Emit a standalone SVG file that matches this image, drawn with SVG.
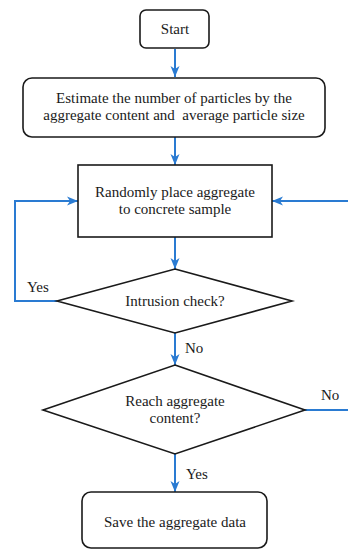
<svg xmlns="http://www.w3.org/2000/svg" width="348" height="550" viewBox="0 0 348 550">
<style>
.box{fill:#fff;stroke:#1a1a1a;stroke-width:1.6}
.t{font-family:"Liberation Serif","Times New Roman",serif;font-size:15px;fill:#1a1a1a;text-anchor:middle}
.lbl{font-family:"Liberation Serif","Times New Roman",serif;font-size:15px;fill:#1a1a1a}
.c{fill:none;stroke:#2a7bd2;stroke-width:2}
</style>
<defs>
<marker id="arr" markerUnits="userSpaceOnUse" markerWidth="12" markerHeight="12" viewBox="0 0 12 12" refX="11" refY="6" orient="auto">
<path d="M0,1.5 L11,6 L0,10.5 L3,6 z" fill="#2a7bd2"/>
</marker>
</defs>
<rect width="348" height="550" fill="#fff"/>
<g id="connectors">
<line class="c" x1="175" y1="49" x2="175" y2="77" marker-end="url(#arr)"/>
<line class="c" x1="175" y1="137" x2="175" y2="165" marker-end="url(#arr)"/>
<line class="c" x1="175" y1="237" x2="175" y2="269" marker-end="url(#arr)"/>
<polyline class="c" points="57,301 15,301 15,201 78,201" marker-end="url(#arr)"/>
<line class="c" x1="175" y1="333" x2="175" y2="365" marker-end="url(#arr)"/>
<line class="c" x1="305" y1="410" x2="348" y2="410"/>
<line class="c" x1="348" y1="201" x2="272" y2="201" marker-end="url(#arr)"/>
<line class="c" x1="175" y1="454" x2="175" y2="492" marker-end="url(#arr)"/>
<text class="lbl" x="27" y="292">Yes</text>
<text class="lbl" x="185" y="353">No</text>
<text class="lbl" x="321" y="400">No</text>
<text class="lbl" x="186" y="479">Yes</text>
</g>
<g id="start">
<rect class="box" x="140" y="10" width="69" height="38" rx="6"/>
<text class="t" x="175" y="34">Start</text>
</g>
<g id="estimate">
<rect class="box" x="23" y="78" width="302" height="59" rx="9"/>
<text class="t" x="174" y="103">Estimate the number of particles by the</text>
<text class="t" x="174" y="120" xml:space="preserve" style="white-space:pre">aggregate content and  average particle size</text>
</g>
<g id="place">
<rect class="box" x="78" y="165" width="194" height="72"/>
<text class="t" x="175" y="197">Randomly place aggregate</text>
<text class="t" x="175" y="214">to concrete sample</text>
</g>
<g id="intrusion">
<polygon class="box" points="175,269 292,301 175,333 57,301"/>
<text class="t" x="175" y="306">Intrusion check?</text>
</g>
<g id="reach">
<polygon class="box" points="175,365 305,410 175,454 43,410"/>
<text class="t" x="175" y="406">Reach aggregate</text>
<text class="t" x="175" y="423">content?</text>
</g>
<g id="save">
<rect class="box" x="82" y="492" width="185" height="56" rx="9"/>
<text class="t" x="175" y="527">Save the aggregate data</text>
</g>
</svg>
